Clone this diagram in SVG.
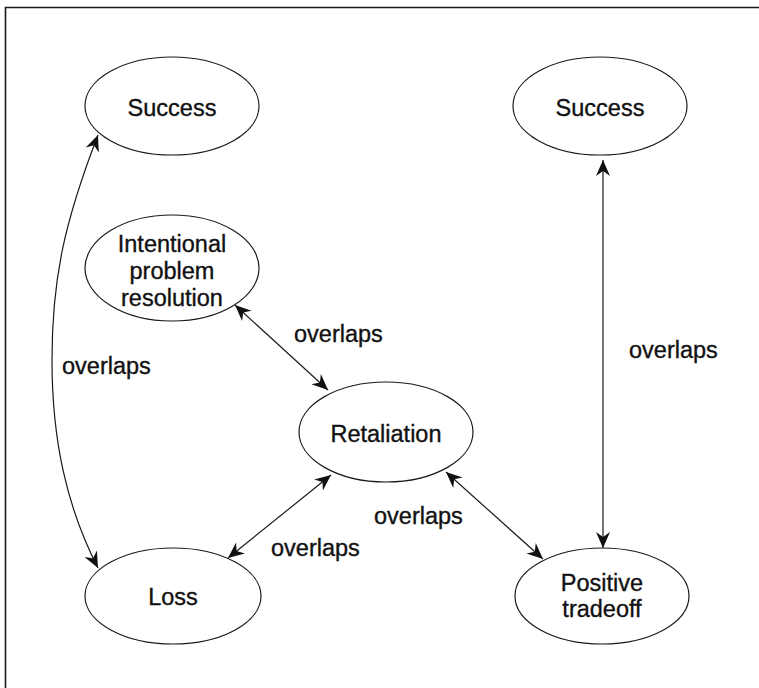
<svg xmlns="http://www.w3.org/2000/svg" width="759" height="688" viewBox="0 0 759 688">
  <style>
    .node ellipse { fill: #ffffff; stroke: #1a1a1a; stroke-width: 1.2; }
    .node text, .label { font-family: "Liberation Sans", Arial, sans-serif; font-size: 23.5px; fill: #111111; stroke: #111111; stroke-width: 0.35; text-anchor: middle; }
    .label { text-anchor: start; }
    .edge { fill: none; stroke: #1a1a1a; stroke-width: 1.2; marker-start: url(#barb); marker-end: url(#barb); }
    .frame { fill: none; stroke: #1a1a1a; stroke-width: 1.6; }
  </style>
  <defs>
    <marker id="barb" markerUnits="userSpaceOnUse" markerWidth="20" markerHeight="18" viewBox="-17 -9 19 18" refX="0" refY="0" orient="auto-start-reverse">
      <path d="M0,0 L-16,-7 L-11,0 L-16,7 Z" fill="#111111"/>
    </marker>
  </defs>

  <rect width="759" height="688" fill="#ffffff"/>
  <!-- page frame: top and left rules -->
  <path class="frame" d="M5.5,688 V7.5 H759"/>

  <g id="connectors">
    <path class="edge" d="M98,135 C64,223 52,280 52,360 C52,440 66.5,506.5 98,568"/>
    <line class="edge" x1="235" y1="305" x2="328" y2="390"/>
    <line class="edge" x1="331" y1="475" x2="228" y2="558"/>
    <line class="edge" x1="446" y1="472" x2="543" y2="559"/>
    <line class="edge" x1="603" y1="160" x2="603" y2="548"/>
    <text class="label" x="62" y="374">overlaps</text>
    <text class="label" x="294" y="342">overlaps</text>
    <text class="label" x="629" y="358">overlaps</text>
    <text class="label" x="374" y="524">overlaps</text>
    <text class="label" x="271" y="556">overlaps</text>
  </g>

  <g id="success-left" class="node">
    <ellipse cx="172" cy="106" rx="87" ry="49"/>
    <text x="172" y="116">Success</text>
  </g>
  <g id="success-right" class="node">
    <ellipse cx="600" cy="106" rx="87" ry="49"/>
    <text x="600" y="116">Success</text>
  </g>
  <g id="intentional-problem-resolution" class="node">
    <ellipse cx="172" cy="268" rx="87" ry="53"/>
    <text x="172" y="252">Intentional</text>
    <text x="172" y="279">problem</text>
    <text x="172" y="306">resolution</text>
  </g>
  <g id="retaliation" class="node">
    <ellipse cx="386" cy="432" rx="87" ry="50"/>
    <text x="386" y="442">Retaliation</text>
  </g>
  <g id="loss" class="node">
    <ellipse cx="173" cy="596" rx="88" ry="48"/>
    <text x="173" y="605">Loss</text>
  </g>
  <g id="positive-tradeoff" class="node">
    <ellipse cx="602" cy="596" rx="87" ry="48"/>
    <text x="602" y="591">Positive</text>
    <text x="602" y="617">tradeoff</text>
  </g>
</svg>
